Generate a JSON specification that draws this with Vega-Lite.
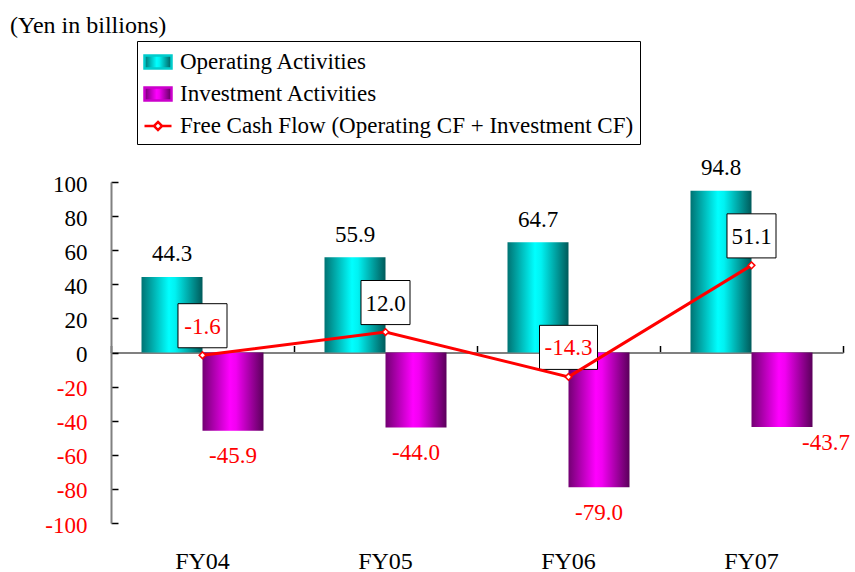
{
  "$schema": "https://vega.github.io/schema/vega-lite/v6.json",
  "width": 732,
  "height": 341,
  "autosize": {"type": "none"},
  "padding": {"left": 111, "top": 182, "right": 12, "bottom": 49},
  "background": "white",
  "config": {
    "locale": {"number": {"decimal": ".", "thousands": ",", "grouping": [3], "currency": ["$", ""], "minus": "-"}},
    "view": {"stroke": null},
    "font": "Liberation Serif"
  },
  "title": {
    "text": "(Yen in billions)",
    "anchor": "start",
    "frame": "group",
    "dx": -101,
    "dy": 2,
    "offset": 5,
    "font": "Liberation Serif",
    "fontSize": 24,
    "fontWeight": "normal",
    "color": "black"
  },
  "data": {
    "values": [
      {"year": "FY04", "series": "Operating Activities", "value": 44.3},
      {"year": "FY04", "series": "Investment Activities", "value": -45.9},
      {"year": "FY04", "series": "Free Cash Flow (Operating CF + Investment CF)", "value": -1.6},
      {"year": "FY05", "series": "Operating Activities", "value": 55.9},
      {"year": "FY05", "series": "Investment Activities", "value": -44.0},
      {"year": "FY05", "series": "Free Cash Flow (Operating CF + Investment CF)", "value": 12.0},
      {"year": "FY06", "series": "Operating Activities", "value": 64.7},
      {"year": "FY06", "series": "Investment Activities", "value": -79.0},
      {"year": "FY06", "series": "Free Cash Flow (Operating CF + Investment CF)", "value": -14.3},
      {"year": "FY07", "series": "Operating Activities", "value": 94.8},
      {"year": "FY07", "series": "Investment Activities", "value": -43.7},
      {"year": "FY07", "series": "Free Cash Flow (Operating CF + Investment CF)", "value": 51.1}
    ]
  },
  "layer": [
    {
      "transform": [{"filter": "datum.series !== 'Free Cash Flow (Operating CF + Investment CF)'"}],
      "mark": {"type": "bar"},
      "encoding": {
        "x": {
          "field": "year", "type": "nominal", "sort": ["FY04", "FY05", "FY06", "FY07"],
          "scale": {"paddingInner": 0, "paddingOuter": 0},
          "axis": {"orient": "top", "offset": -170.5, "labels": false, "title": null, "tickBand": "extent", "domainColor": "#808080", "domainWidth": 2, "tickColor": "black", "tickWidth": 1.5, "tickSize": 7, "grid": false}
        },
        "xOffset": {
          "field": "series", "type": "nominal",
          "scale": {"domain": ["Operating Activities", "Investment Activities"], "paddingInner": 0, "paddingOuter": 0.5}
        },
        "y": {
          "field": "value", "type": "quantitative",
          "scale": {"domain": [-100, 100], "nice": false, "zero": true},
          "axis": {
            "values": [-100, -80, -60, -40, -20, 0, 20, 40, 60, 80, 100],
            "tickCount": 11,
            "title": null, "grid": false, "labelOverlap": false,
            "domainColor": "#808080", "domainWidth": 2,
            "tickColor": "black", "tickWidth": 1.5, "tickSize": -7,
            "labelPadding": 31, "labelOffset": 2,
            "labelFont": "Liberation Serif", "labelFontSize": 23,
            "labelColor": {"expr": "datum.value < 0 ? '#FF0000' : '#000000'"}
          }
        },
        "color": {
          "condition": {
            "test": "datum.series === 'Operating Activities'",
            "value": {"gradient": "linear", "x1": 0, "y1": 0, "x2": 1, "y2": 0, "stops": [
              {"offset": 0, "color": "#007373"}, {"offset": 0.45, "color": "#00FFFF"}, {"offset": 0.55, "color": "#00F2F2"}, {"offset": 1, "color": "#005a5a"}]}
          },
          "value": {"gradient": "linear", "x1": 0, "y1": 0, "x2": 1, "y2": 0, "stops": [
            {"offset": 0, "color": "#730073"}, {"offset": 0.45, "color": "#FF00FF"}, {"offset": 0.55, "color": "#F200F2"}, {"offset": 1, "color": "#5a005a"}]}
        }
      }
    },
    {
      "transform": [{"filter": "datum.series === 'Free Cash Flow (Operating CF + Investment CF)'"}],
      "mark": {"type": "point", "filled": true, "fill": "white", "stroke": "black", "strokeWidth": 1, "opacity": 1, "size": 3364, "yOffset": -29.5},
      "encoding": {
        "x": {"field": "year", "type": "nominal", "sort": ["FY04", "FY05", "FY06", "FY07"], "axis": null},
        "y": {"field": "value", "type": "quantitative"},
        "shape": {
          "condition": {"test": "datum.value <= -10", "value": "M-1,-0.76H1V0.76H-1Z"},
          "value": "M-0.845,-0.76H0.845V0.76H-0.845Z"
        }
      }
    },
    {
      "transform": [{"filter": "datum.series === 'Free Cash Flow (Operating CF + Investment CF)'"}],
      "mark": {"type": "line", "strokeWidth": 3},
      "encoding": {
        "x": {"field": "year", "type": "nominal", "sort": ["FY04", "FY05", "FY06", "FY07"], "axis": null},
        "y": {"field": "value", "type": "quantitative"},
        "color": {
          "field": "series", "type": "nominal",
          "scale": {
            "domain": ["Operating Activities", "Investment Activities", "Free Cash Flow (Operating CF + Investment CF)"],
            "range": ["#00CCCC", "#CC00CC", "#FF0000"]
          },
          "legend": {
            "orient": "none", "legendX": 26, "legendY": -141,
            "title": null, "padding": 6,
            "strokeColor": "black", "fillColor": "white",
            "labelFont": "Liberation Serif", "labelFontSize": 23, "labelColor": "black",
            "labelLimit": 700, "labelOffset": 7, "rowPadding": 5,
            "symbolSize": 729,
            "encode": {
              "symbols": {
                "update": {
                  "shape": [
                    {"test": "datum.value === 'Free Cash Flow (Operating CF + Investment CF)'", "value": "M-1,0H-0.3M0.3,0H1M0,-0.3L0.3,0L0,0.3L-0.3,0Z"},
                    {"value": "M-1,-0.48H1V0.48H-1Z"}
                  ],
                  "fill": [
                    {"test": "datum.value === 'Operating Activities'", "value": {"gradient": "linear", "x1": 0, "y1": 0, "x2": 1, "y2": 0, "stops": [
                      {"offset": 0, "color": "#007373"}, {"offset": 0.45, "color": "#00FFFF"}, {"offset": 0.55, "color": "#00F2F2"}, {"offset": 1, "color": "#005a5a"}]}},
                    {"test": "datum.value === 'Investment Activities'", "value": {"gradient": "linear", "x1": 0, "y1": 0, "x2": 1, "y2": 0, "stops": [
                      {"offset": 0, "color": "#730073"}, {"offset": 0.45, "color": "#FF00FF"}, {"offset": 0.55, "color": "#F200F2"}, {"offset": 1, "color": "#5a005a"}]}},
                    {"value": "white"}
                  ],
                  "stroke": [
                    {"test": "datum.value === 'Free Cash Flow (Operating CF + Investment CF)'", "value": "#FF0000"},
                    {"value": "transparent"}
                  ],
                  "strokeWidth": {"value": 2.5},
                  "size": {"value": 729},
                  "opacity": {"value": 1}
                }
              }
            }
          }
        }
      }
    },
    {
      "transform": [{"filter": "datum.series === 'Free Cash Flow (Operating CF + Investment CF)'"}],
      "mark": {"type": "point", "shape": "diamond", "filled": true, "fill": "white", "stroke": "#FF0000", "strokeWidth": 1.5, "size": 45, "opacity": 1},
      "encoding": {
        "x": {"field": "year", "type": "nominal", "sort": ["FY04", "FY05", "FY06", "FY07"], "axis": null},
        "y": {"field": "value", "type": "quantitative"}
      }
    },
    {
      "transform": [{"filter": "datum.series === 'Free Cash Flow (Operating CF + Investment CF)'"}],
      "mark": {"type": "text", "font": "Liberation Serif", "fontSize": 23, "baseline": "alphabetic", "align": "center", "dy": -21.5},
      "encoding": {
        "x": {"field": "year", "type": "nominal", "sort": ["FY04", "FY05", "FY06", "FY07"], "axis": null},
        "y": {"field": "value", "type": "quantitative"},
        "text": {"field": "value", "type": "quantitative", "format": ".1f"},
        "color": {"condition": {"test": "datum.value < 0", "value": "#FF0000"}, "value": "#000000"}
      }
    },
    {
      "transform": [{"filter": "datum.series === 'Operating Activities'"}],
      "mark": {"type": "text", "font": "Liberation Serif", "fontSize": 23, "baseline": "alphabetic", "align": "center", "dy": -15.5, "color": "#000000"},
      "encoding": {
        "x": {
          "field": "year", "type": "nominal", "sort": ["FY04", "FY05", "FY06", "FY07"],
          "axis": {"orient": "bottom", "title": null, "domain": false, "ticks": false, "labelPadding": 26, "labelFont": "Liberation Serif", "labelFontSize": 24, "labelColor": "black", "labelAngle": 0}
        },
        "xOffset": {"field": "series", "type": "nominal"},
        "y": {"field": "value", "type": "quantitative"},
        "text": {"field": "value", "type": "quantitative", "format": ".1f"}
      }
    },
    {
      "transform": [{"filter": "datum.series === 'Investment Activities'"}],
      "mark": {"type": "text", "font": "Liberation Serif", "fontSize": 23, "baseline": "alphabetic", "align": "center", "color": "#FF0000", "dx": {"expr": "datum.year === 'FY07' ? 44 : 0"}, "dy": {"expr": "datum.year === 'FY07' ? 23 : 32.5"}},
      "encoding": {
        "x": {"field": "year", "type": "nominal", "sort": ["FY04", "FY05", "FY06", "FY07"], "axis": null},
        "xOffset": {"field": "series", "type": "nominal"},
        "y": {"field": "value", "type": "quantitative"},
        "text": {"field": "value", "type": "quantitative", "format": ".1f"}
      }
    }
  ],
  "resolve": {"axis": {"x": "independent"}}
}
